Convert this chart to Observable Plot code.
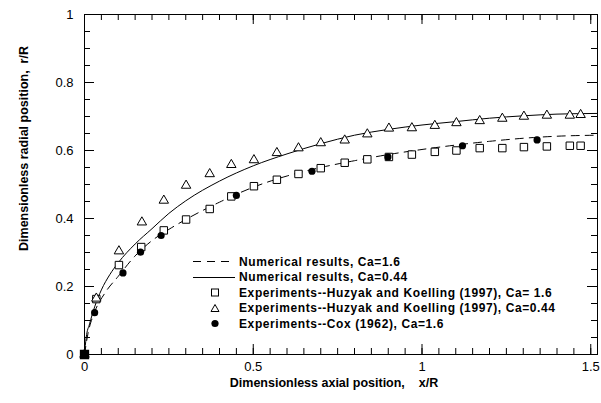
<!DOCTYPE html>
<html><head><meta charset="utf-8">
<script src="https://cdn.jsdelivr.net/npm/d3@7"></script>
<script src="https://cdn.jsdelivr.net/npm/@observablehq/plot@0.6"></script>
<style>
html,body{margin:0;padding:0;background:#fff;}
#wrap{position:relative;width:601px;height:403px;font-family:"Liberation Sans",Arial,sans-serif;}
#legend{position:absolute;left:193px;top:254px;font-weight:bold;font-size:12px;letter-spacing:0.6px;color:#000;}
.row{display:flex;align-items:center;height:15.5px;white-space:pre;}
.row svg{width:46px;height:15px;flex:none;}
</style></head><body><div id="wrap"><div id="legend"></div></div>
<script>
// tick values and labels
const xTickValues = [0, 0.5, 1, 1.5];
const xTickLabels = ["0", "0.5", "1", "1.5"];
const yTickValues = [0, 0.2, 0.4, 0.6, 0.8, 1];
const yTickLabels = ["0", "0.2", "0.4", "0.6", "0.8", "1"];
const xTitle = "Dimensionless axial position,\u00a0\u00a0\u00a0 x/R";
const yTitle = "Dimensionless radial position,  r/R";

// series names
const seriesNames = [
  "Numerical results, Ca=1.6",
  "Numerical results, Ca=0.44",
  "Experiments--Huzyak and Koelling (1997), Ca= 1.6",
  "Experiments--Huzyak and Koelling (1997), Ca=0.44",
  "Experiments--Cox (1962), Ca=1.6"
];

// Numerical results, Ca=1.6 (dashed)
const num16X = [0, 0.01, 0.03, 0.06, 0.1, 0.15, 0.2, 0.25, 0.3, 0.4, 0.5, 0.6, 0.7, 0.8, 0.9, 1.0, 1.1, 1.2, 1.3, 1.4, 1.52];
const num16Y = [0, 0.06, 0.125, 0.18, 0.23, 0.29, 0.335, 0.368, 0.397, 0.448, 0.492, 0.525, 0.55, 0.57, 0.588, 0.603, 0.616, 0.627, 0.636, 0.642, 0.645];

// Numerical results, Ca=0.44 (solid)
const num044X = [0, 0.005, 0.015, 0.03, 0.05, 0.075, 0.1, 0.15, 0.2, 0.25, 0.3, 0.4, 0.5, 0.6, 0.7, 0.8, 0.9, 1.0, 1.1, 1.2, 1.3, 1.4, 1.52];
const num044Y = [0, 0.05, 0.09, 0.14, 0.19, 0.235, 0.27, 0.325, 0.37, 0.415, 0.452, 0.51, 0.555, 0.59, 0.62, 0.645, 0.662, 0.675, 0.685, 0.695, 0.702, 0.707, 0.709];

// Experiments, Huzyak & Koelling, Ca=1.6 (squares)
const hk16X = [0, 0.035, 0.102, 0.168, 0.235, 0.301, 0.371, 0.435, 0.502, 0.570, 0.634, 0.700, 0.771, 0.838, 0.902, 0.970, 1.038, 1.102, 1.171, 1.238, 1.302, 1.370, 1.438, 1.470];
const hk16Y = [0, 0.163, 0.263, 0.316, 0.365, 0.397, 0.428, 0.465, 0.495, 0.514, 0.531, 0.548, 0.564, 0.574, 0.581, 0.588, 0.596, 0.600, 0.607, 0.607, 0.610, 0.612, 0.614, 0.614];

// Experiments, Huzyak & Koelling, Ca=0.44 (triangles)
const hk044X = [0, 0.035, 0.102, 0.170, 0.235, 0.301, 0.371, 0.435, 0.502, 0.570, 0.634, 0.700, 0.771, 0.838, 0.902, 0.970, 1.038, 1.102, 1.171, 1.238, 1.302, 1.370, 1.438, 1.470];
const hk044Y = [0, 0.165, 0.304, 0.389, 0.453, 0.497, 0.531, 0.558, 0.572, 0.593, 0.607, 0.622, 0.630, 0.648, 0.665, 0.666, 0.673, 0.681, 0.687, 0.694, 0.700, 0.703, 0.703, 0.705];

// Experiments, Cox 1962, Ca=1.6 (filled circles)
const coxX = [0, 0.030, 0.114, 0.166, 0.227, 0.450, 0.674, 0.899, 1.120, 1.341];
const coxY = [0, 0.123, 0.240, 0.301, 0.350, 0.468, 0.539, 0.581, 0.614, 0.631];

const zip = (xs, ys) => xs.map((x, i) => ({x, y: ys[i]}));
const num16 = zip(num16X, num16Y);
const num044 = zip(num044X, num044Y);
const hk16 = zip(hk16X, hk16Y);
const hk044 = zip(hk044X, hk044Y);
const cox = zip(coxX, coxY);

const W = 601, H = 403, mL = 84, mR = 4, mT = 14, mB = 49;
const plotW = W - mL - mR, plotH = H - mT - mB;
const xMinor = d3.range(0, 1.5001, 0.05);
const yMinor = d3.range(0, 1.0001, 0.05);
const majorLen = 10, minorLen = 6;
const dash = "8,6";

const chart = Plot.plot({
  width: W, height: H,
  marginLeft: mL, marginRight: mR, marginTop: mT, marginBottom: mB,
  style: {fontFamily: '"Liberation Sans", Arial, sans-serif', fontSize: "13px", color: "#000", background: "#fff"},
  x: {domain: [0, 1.52]},
  y: {domain: [0, 1]},
  marks: [
    Plot.line(num16, {x: "x", y: "y", stroke: "#000", strokeWidth: 1, strokeDasharray: dash, curve: "monotone-x"}),
    Plot.line(num044, {x: "x", y: "y", stroke: "#000", strokeWidth: 1, curve: "monotone-x"}),
    Plot.dot(hk16, {x: "x", y: "y", symbol: "square", r: 4.2, stroke: "#000", strokeWidth: 1, fill: "#fff"}),
    Plot.dot(hk044, {x: "x", y: "y", symbol: "triangle", r: 3.5, stroke: "#000", strokeWidth: 1, fill: "#fff"}),
    Plot.dot(cox, {x: "x", y: "y", r: 3.6, fill: "#000", stroke: null}),
    Plot.dot(hk16.filter(d => d.x === 0), {x: "x", y: "y", symbol: "square", r: 4.4, fill: "#000", stroke: "#000"}),
    Plot.frame({stroke: "#000", strokeWidth: 1}),
    Plot.ruleX(xMinor, {insetTop: plotH - minorLen, stroke: "#000"}),
    Plot.ruleX(xMinor, {insetBottom: plotH - minorLen, stroke: "#000"}),
    Plot.ruleX(xTickValues, {insetTop: plotH - majorLen, stroke: "#000"}),
    Plot.ruleX(xTickValues, {insetBottom: plotH - majorLen, stroke: "#000"}),
    Plot.ruleY(yMinor, {insetRight: plotW - minorLen, stroke: "#000"}),
    Plot.ruleY(yMinor, {insetLeft: plotW - minorLen, stroke: "#000"}),
    Plot.ruleY(yTickValues, {insetRight: plotW - majorLen, stroke: "#000"}),
    Plot.ruleY(yTickValues, {insetLeft: plotW - majorLen, stroke: "#000"}),
    Plot.axisX({ticks: xTickValues, tickFormat: d => xTickLabels[xTickValues.indexOf(d)], tickSize: 0, tickPadding: 7, label: null, fontSize: 13}),
    Plot.axisY({ticks: yTickValues, tickFormat: d => yTickLabels[yTickValues.indexOf(d)], tickSize: 0, tickPadding: 11, label: null, fontSize: 13}),
    Plot.text([xTitle], {frameAnchor: "bottom", dx: -7, dy: 32, text: d => d, fontWeight: "bold", fontSize: 12.5, letterSpacing: "0.9px"}),
    Plot.text([yTitle], {frameAnchor: "left", textAnchor: "middle", dx: -61, dy: -36, rotate: -90, text: d => d, fontWeight: "bold", fontSize: 12.5})
  ]
});
document.getElementById("wrap").prepend(chart);

// legend overlay
const legend = document.getElementById("legend");
const sym = [
  `<line x1="0" y1="7.5" x2="42" y2="7.5" stroke="#000" stroke-width="1" stroke-dasharray="${dash}"/>`,
  `<line x1="0" y1="7.5" x2="42" y2="7.5" stroke="#000" stroke-width="1"/>`,
  `<rect x="18.5" y="4" width="7" height="7" fill="#fff" stroke="#000"/>`,
  `<path d="M22,3.5 L26,10.5 L18,10.5 Z" fill="#fff" stroke="#000"/>`,
  `<circle cx="22" cy="7.5" r="3.6" fill="#000"/>`
];
seriesNames.forEach((name, i) => {
  const row = document.createElement("div");
  row.className = "row";
  row.innerHTML = `<svg viewBox="0 0 46 15">${sym[i]}</svg><span></span>`;
  row.querySelector("span").textContent = name;
  legend.appendChild(row);
});
</script>
</body></html>
